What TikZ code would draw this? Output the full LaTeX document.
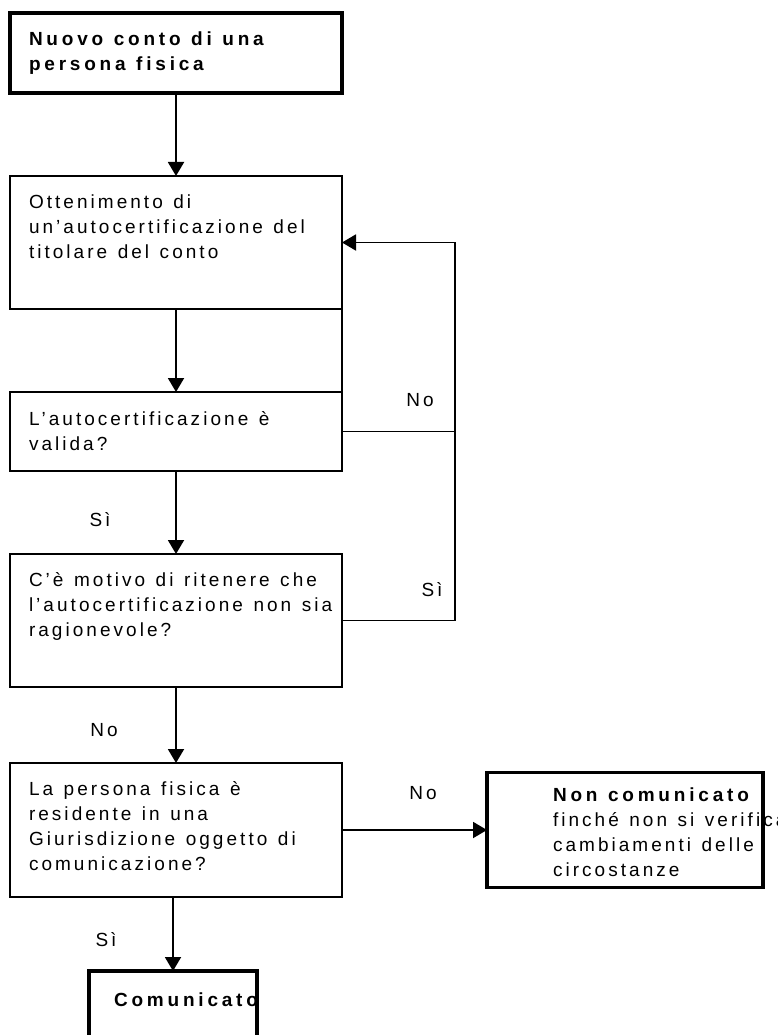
\documentclass[tikz,border=0pt]{standalone}
\usepackage{fontspec}
\setmainfont{Liberation Sans}[LetterSpace=16,BoldFeatures={LetterSpace=20}]
\usepackage{tikz}
\usetikzlibrary{positioning,arrows.meta}
\newcommand*{\testo}{\fontsize{19pt}{25pt}\selectfont}
\hyphenpenalty=10000

\begin{document}
\begin{tikzpicture}[x=1pt, y=-1pt, node distance=83pt]
	\tikzstyle{blocco}=[rectangle, draw=black, line width=1.9pt, anchor=north, text=black, outer sep=0pt,
	font=\testo, align=left, inner xsep=19pt, text width=294pt, minimum width=332pt,
	execute at begin node={\spaceskip=10.5pt\relax}]
	\tikzstyle{esito}=[blocco, line width=3.6pt]
	\tikzstyle{line}=[-, line width=1.9pt]
	\tikzstyle{freccia}=[{}-{Triangle[length=14pt,width=16pt]}, line width=1.9pt]
	\tikzstyle{etichetta}=[font=\testo, inner sep=0pt]
	\useasboundingbox (0,0) rectangle (777,1035);
	\node (Nuovo) [esito, minimum height=80pt] at (176,13)
	{\textbf{Nuovo conto di una}\\\textbf{persona fisica}};
	\node (Ottenimento) [blocco, minimum height=133pt, below=of Nuovo]
	{Ottenimento di\\un’autocertificazione del\\titolare del conto\\\strut};
	\node (Valida) [blocco, minimum height=79pt, below=of Ottenimento]
	{L’autocertificazione è\\valida?};
	\node (Motivo) [blocco, minimum height=133pt, below=of Valida]
	{C’è motivo di ritenere che\\l’autocertificazione~non~sia\\ragionevole?\\\strut};
	\node (Persona) [blocco, minimum height=134pt, below=76pt of Motivo]
	{La persona fisica è\\residente in una\\Giurisdizione oggetto di\\comunicazione?\strut};
	\node (NonComunicato) [esito, minimum height=115pt, minimum width=276pt, text width=144pt,
	inner xsep=66pt, right=145pt of Persona]
	{\strut\textbf{Non~comunicato}\\finché~non~si~verifica\\cambiamenti~delle\\circostanze};
	\node (Comunicato) [esito, minimum height=89pt, minimum width=168pt, text width=118pt,
	inner xsep=25pt, below=74pt of Persona, xshift=-3pt]
	{\textbf{Comunicato}\\\strut};
	\coordinate[right=113pt of Valida.east] (Ritorno);
	
	\node (NoValida) [etichetta] at (420,400) {No};
	\node (SiMotivo) [etichetta] at (432,590) {Sì};
	\node (SiValida) [etichetta] at (100,520) {Sì};
	\node (NoMotivo) [etichetta] at (104,730) {No};
	\node (NoPersona) [etichetta] at (423,793) {No};
	\node (SiPersona) [etichetta] at (106,940) {Sì};
	
	\draw[freccia] (Nuovo) -- (Ottenimento);
	\draw[freccia] (Ottenimento) -- (Valida);
	\draw[freccia] (Valida) -- (Motivo);
	\draw[freccia] (Motivo) -- (Persona);
	\draw[freccia] (Persona) -- (NonComunicato);
	\draw[freccia] (Persona.south -| Comunicato.north) -- (Comunicato.north);
	\draw[line] (Ottenimento.south east) -- (Valida.north east);
	\draw[freccia] (Valida.east) -- (Ritorno) |- (Ottenimento.east);
	\draw[line] (Motivo.east) -| (Ritorno);
\end{tikzpicture}
\end{document}
